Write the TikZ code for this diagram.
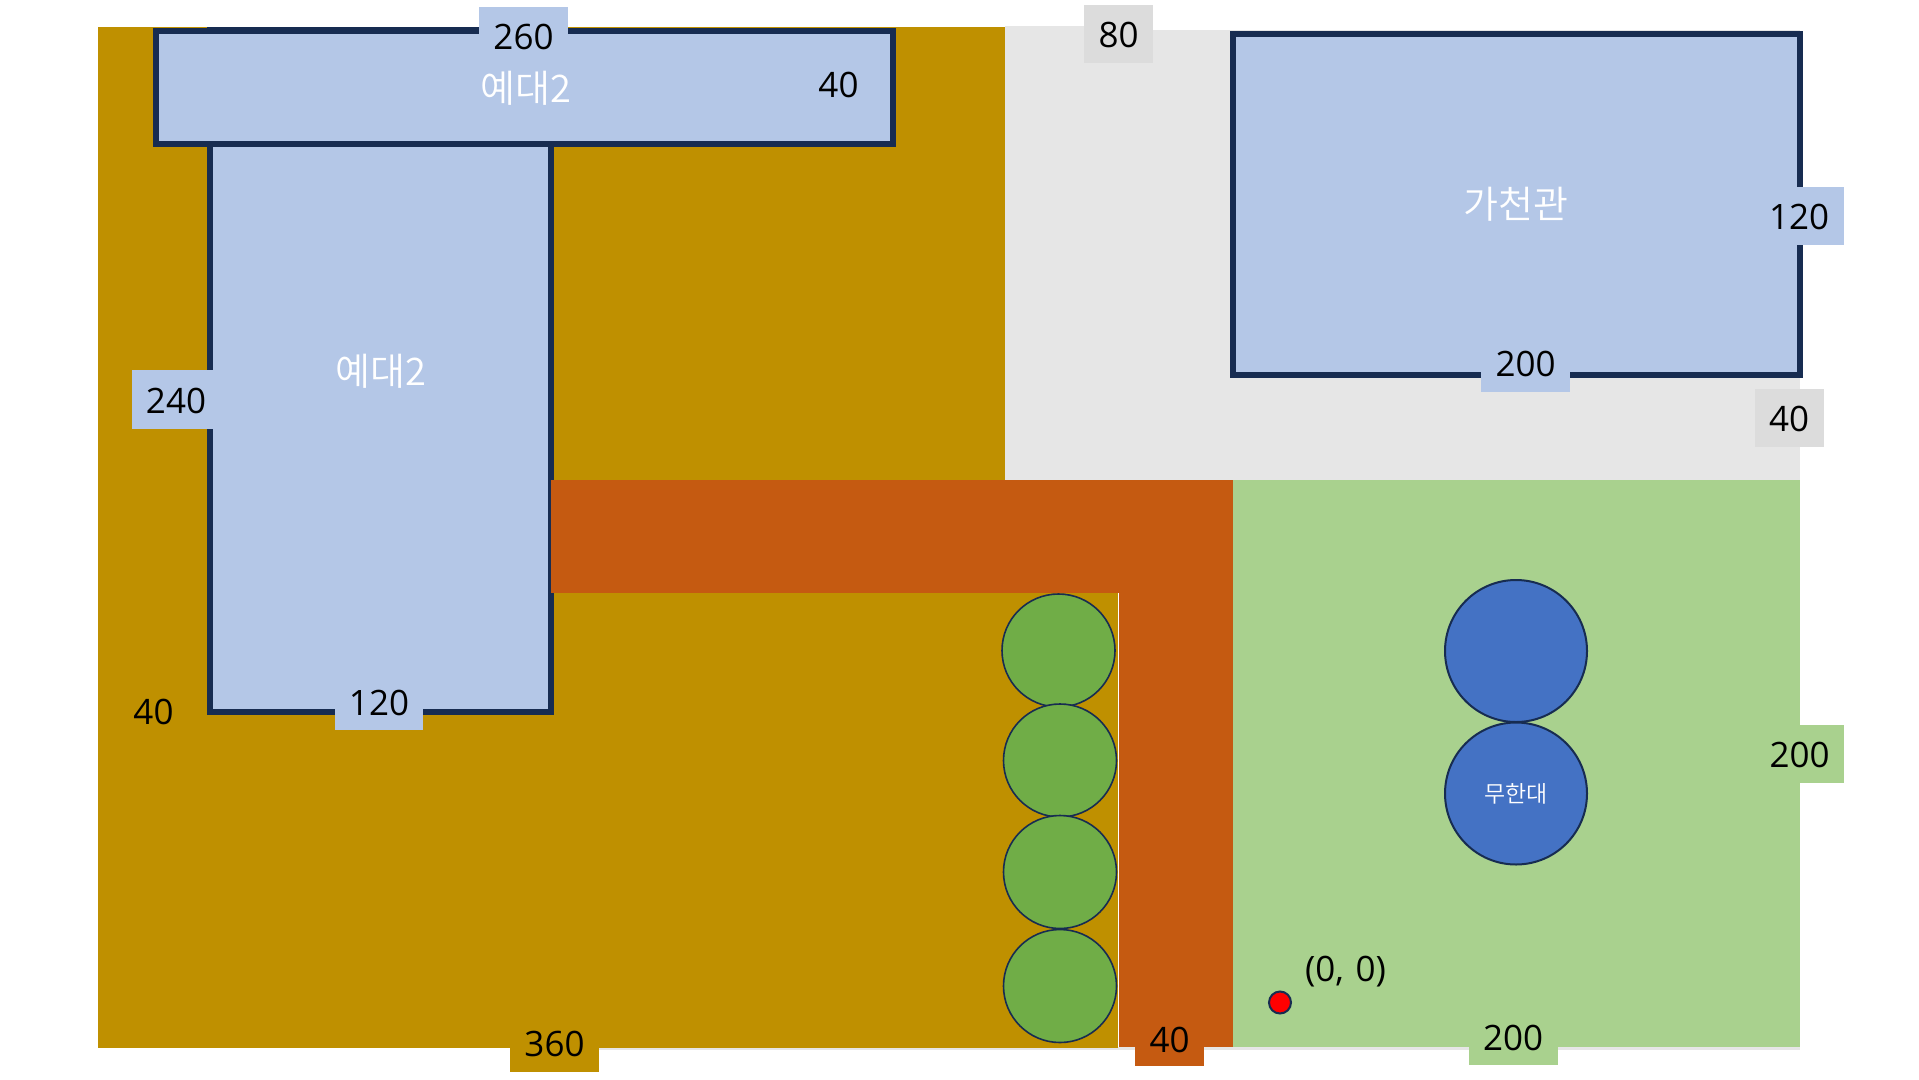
\documentclass[tikz,border=0pt]{standalone}
\usepackage{fontspec}
\setmainfont{Open Sans}
\newfontfamily\krfont{Noto Sans CJK KR DemiLight}
\definecolor{gold}{HTML}{BF9000}
\definecolor{rust}{HTML}{C55A11}
\definecolor{leaf}{HTML}{A9D18E}
\definecolor{pale}{HTML}{E6E6E6}
\definecolor{paledark}{HTML}{DCDCDC}
\definecolor{navy}{HTML}{172C51}
\definecolor{sky}{HTML}{B4C7E7}
\definecolor{tree}{HTML}{70AD47}
\definecolor{royal}{HTML}{4472C4}
\tikzset{
  zone/.style={inner sep=0pt,outer sep=0pt,anchor=north west},
  building/.style={zone,draw=navy,line width=6pt,fill=sky},
  tree node/.style={circle,inner sep=0pt,minimum size=113pt,draw=navy,line width=1.6pt,fill=tree},
  pool/.style={circle,inner sep=0pt,minimum size=142pt,draw=navy,line width=2pt,fill=royal},
  dim/.style={font=\fontsize{35}{40}\selectfont,text=black,inner sep=0pt},
  dimbox/.style={inner sep=0pt,outer sep=0pt,anchor=north west},
  title/.style={font=\krfont\fontsize{38}{42}\selectfont,text=white,inner sep=0pt},
}
\begin{document}
\begin{tikzpicture}[x=1pt,y=-1pt]
\useasboundingbox (0,0) rectangle (1919,1079);
% ground
\node[zone,fill=pale,minimum width=148pt,minimum height=100pt] (groundtop) at (1005,26) {};
\node[zone,fill=pale,minimum width=795pt,minimum height=460pt] (groundgray) at (1005,30) {};
\node[zone,fill=pale,minimum width=1280pt,minimum height=12pt] (groundedge) at (520,1038) {};
\node[zone,fill=gold,minimum width=907pt,minimum height=1020.5pt] (lawn) at (98,27) {};
\node[zone,fill=gold,minimum width=114pt,minimum height=460.5pt] (lawnb) at (1004,587) {};
\node[zone,fill=white,minimum width=1pt,minimum height=455pt] (seam) at (1118,592) {};
\node[zone,fill=leaf,minimum width=567pt,minimum height=567pt] (field) at (1233,479.5) {};
% buildings
\node[building,minimum width=341pt,minimum height=681.5pt] (bldga) at (210,30) {};
\node[building,minimum width=737pt,minimum height=113pt] (bldgb) at (156,31) {};
\node[building,minimum width=567pt,minimum height=341pt] (bldgc) at (1233,33.5) {};
% roads
\node[zone,fill=rust,minimum width=114pt,minimum height=567pt] (roadv) at (1119,479.5) {};
\node[zone,fill=rust,minimum width=682pt,minimum height=113pt] (roadh) at (551,479.5) {};
% circles
\node[tree node] (t1) at (1058.5,650.5) {};
\node[tree node] (t2) at (1060,760.5) {};
\node[tree node] (t3) at (1060,872) {};
\node[tree node] (t4) at (1060,986) {};
\node[pool] (p1) at (1516,651) {};
\node[pool] (p2) at (1516,793.5) {};
\node[circle,inner sep=0pt,minimum size=22pt,draw=navy,line width=2pt,fill=red] (origin) at (1280,1002.5) {};
% label backgrounds
\node[dimbox,fill=sky,minimum width=89pt,minimum height=58pt] (b260) at (479,7) {};
\node[dimbox,fill=paledark,minimum width=69pt,minimum height=58pt] (b80) at (1084,5) {};
\node[dimbox,fill=sky,minimum width=89pt,minimum height=58pt] (b120r) at (1755,187) {};
\node[dimbox,fill=sky,minimum width=89pt,minimum height=58pt] (b200c) at (1481,334) {};
\node[dimbox,fill=paledark,minimum width=69pt,minimum height=58pt] (b40g) at (1755,389) {};
\node[dimbox,fill=sky,minimum width=89pt,minimum height=59pt] (b240) at (132,370) {};
\node[dimbox,fill=sky,minimum width=88pt,minimum height=58pt] (b120b) at (335,672) {};
\node[dimbox,fill=leaf,minimum width=89pt,minimum height=58pt] (b200r) at (1755,725) {};
\node[dimbox,fill=gold,minimum width=89pt,minimum height=58pt] (b360) at (510,1013.5) {};
\node[dimbox,fill=rust,minimum width=69pt,minimum height=58pt] (b40b) at (1135,1008) {};
\node[dimbox,fill=leaf,minimum width=89pt,minimum height=58pt] (b200b) at (1469,1006.5) {};
% texts
\node[dim] (t260) at (523.5,37) {260};
\node[dim] (t40a) at (838.5,85) {40};
\node[dim] (t80) at (1118.5,35) {80};
\node[dim] (t120r) at (1799,217) {120};
\node[dim] (t200c) at (1525.5,364) {200};
\node[dim] (t40g) at (1789,419) {40};
\node[dim] (t240) at (176,401) {240};
\node[dim] (t40l) at (153.5,712) {40};
\node[dim] (t120b) at (379,703) {120};
\node[dim] (t200r) at (1799.5,755) {200};
\node[dim] (t360) at (554.5,1043.5) {360};
\node[dim] (t40b) at (1169.5,1039.5) {40};
\node[dim] (t200b) at (1513,1037.5) {200};
\node[dim] (t00) at (1345.5,971.5) {(0,\,\,0)};
\node[title] (n1) at (525.5,88) {예대2};
\node[title] (n2) at (381,371) {예대2};
\node[title] (n3) at (1516,204) {가천관};
\node[title,font=\krfont\fontsize{23}{26}\selectfont] (n4) at (1516,793.5) {무한대};
\end{tikzpicture}
\end{document}
